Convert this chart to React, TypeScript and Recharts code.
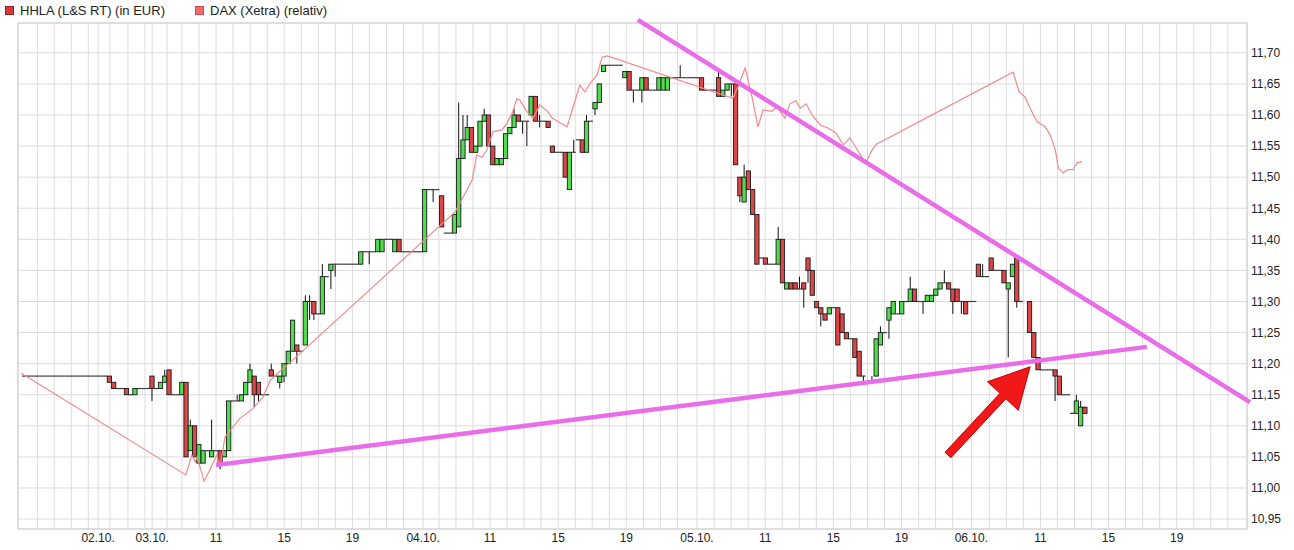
import React from "react";
import {
  Bar,
  CartesianGrid,
  ComposedChart,
  Line,
  ReferenceArea,
  ReferenceLine,
  XAxis,
  YAxis,
} from "recharts";

// 15-minute slots on a compressed intraday time axis: [slot, open, high, low, close]
const candles: number[][] = [
  [21, 11.18, 11.18, 11.17, 11.17], [22, 11.17, 11.17, 11.16, 11.16], [25, 11.16, 11.16, 11.15, 11.15],
  [27, 11.15, 11.16, 11.15, 11.16], [31, 11.18, 11.18, 11.14, 11.16], [33, 11.16, 11.17, 11.16, 11.17],
  [34, 11.17, 11.19, 11.17, 11.18], [35, 11.19, 11.19, 11.15, 11.15], [38, 11.15, 11.17, 11.15, 11.17],
  [39, 11.17, 11.17, 11.05, 11.05], [40, 11.06, 11.11, 11.06, 11.1], [41, 11.1, 11.1, 11.05, 11.05],
  [42, 11.04, 11.07, 11.04, 11.07], [43, 11.04, 11.06, 11.04, 11.06], [45, 11.05, 11.11, 11.05, 11.06],
  [47, 11.06, 11.06, 11.03, 11.04], [48, 11.05, 11.06, 11.05, 11.06], [49, 11.06, 11.14, 11.06, 11.14],
  [51, 11.14, 11.15, 11.14, 11.14], [52, 11.14, 11.15, 11.14, 11.15], [53, 11.15, 11.17, 11.15, 11.17],
  [54, 11.17, 11.2, 11.17, 11.19], [55, 11.18, 11.18, 11.13, 11.15], [56, 11.17, 11.17, 11.14, 11.15],
  [59, 11.19, 11.2, 11.18, 11.18], [61, 11.17, 11.18, 11.16, 11.18], [62, 11.18, 11.2, 11.17, 11.2],
  [63, 11.2, 11.22, 11.2, 11.22], [64, 11.22, 11.27, 11.22, 11.27], [65, 11.23, 11.23, 11.2, 11.22],
  [67, 11.23, 11.31, 11.23, 11.3], [68, 11.3, 11.31, 11.27, 11.3], [69, 11.3, 11.3, 11.27, 11.28],
  [71, 11.28, 11.36, 11.28, 11.34], [73, 11.35, 11.36, 11.32, 11.36], [74, 11.36, 11.36, 11.34, 11.36],
  [80, 11.36, 11.38, 11.36, 11.38], [82, 11.38, 11.38, 11.36, 11.38], [84, 11.38, 11.4, 11.38, 11.4],
  [85, 11.38, 11.4, 11.38, 11.4], [88, 11.38, 11.4, 11.38, 11.4], [89, 11.4, 11.4, 11.38, 11.38],
  [95, 11.38, 11.48, 11.38, 11.48], [97, 11.48, 11.48, 11.46, 11.48], [99, 11.47, 11.47, 11.42, 11.42],
  [102, 11.41, 11.44, 11.41, 11.44], [103, 11.42, 11.62, 11.42, 11.53], [104, 11.53, 11.6, 11.53, 11.56],
  [105, 11.56, 11.6, 11.56, 11.58], [106, 11.58, 11.58, 11.54, 11.54], [107, 11.54, 11.55, 11.54, 11.55],
  [108, 11.55, 11.59, 11.55, 11.59], [109, 11.59, 11.61, 11.59, 11.6], [110, 11.6, 11.6, 11.55, 11.55],
  [111, 11.55, 11.55, 11.52, 11.52], [112, 11.52, 11.53, 11.52, 11.53], [113, 11.52, 11.53, 11.52, 11.53],
  [114, 11.53, 11.57, 11.53, 11.57], [115, 11.57, 11.58, 11.57, 11.58], [116, 11.58, 11.61, 11.58, 11.6],
  [117, 11.6, 11.6, 11.59, 11.59], [118, 11.59, 11.59, 11.57, 11.59], [119, 11.59, 11.59, 11.55, 11.59],
  [120, 11.6, 11.63, 11.6, 11.63], [121, 11.63, 11.63, 11.59, 11.59], [122, 11.59, 11.6, 11.58, 11.59],
  [124, 11.59, 11.59, 11.58, 11.58], [125, 11.55, 11.55, 11.54, 11.54], [128, 11.54, 11.54, 11.5, 11.5],
  [129, 11.48, 11.54, 11.48, 11.54], [130, 11.54, 11.56, 11.54, 11.54], [132, 11.56, 11.56, 11.54, 11.54],
  [133, 11.54, 11.6, 11.54, 11.59], [135, 11.61, 11.62, 11.6, 11.62], [136, 11.62, 11.65, 11.62, 11.65],
  [137, 11.67, 11.68, 11.67, 11.68], [142, 11.66, 11.67, 11.66, 11.67], [143, 11.67, 11.67, 11.64, 11.64],
  [144, 11.64, 11.64, 11.62, 11.64], [146, 11.64, 11.66, 11.62, 11.66], [147, 11.66, 11.66, 11.64, 11.64],
  [150, 11.64, 11.66, 11.64, 11.66], [151, 11.64, 11.66, 11.64, 11.66], [152, 11.64, 11.66, 11.64, 11.66],
  [155, 11.66, 11.68, 11.66, 11.66], [160, 11.66, 11.66, 11.64, 11.64], [164, 11.66, 11.67, 11.63, 11.63],
  [165, 11.63, 11.64, 11.63, 11.64], [166, 11.64, 11.65, 11.64, 11.65], [167, 11.65, 11.65, 11.63, 11.65],
  [168, 11.65, 11.65, 11.52, 11.52], [169, 11.5, 11.5, 11.46, 11.47], [170, 11.46, 11.52, 11.46, 11.5],
  [171, 11.51, 11.51, 11.48, 11.48], [172, 11.48, 11.48, 11.44, 11.44], [173, 11.44, 11.44, 11.36, 11.36],
  [175, 11.37, 11.37, 11.36, 11.36], [178, 11.36, 11.42, 11.36, 11.4], [179, 11.4, 11.4, 11.33, 11.33],
  [180, 11.32, 11.33, 11.32, 11.33], [181, 11.33, 11.33, 11.32, 11.32], [182, 11.33, 11.33, 11.32, 11.32],
  [183, 11.32, 11.34, 11.32, 11.32], [184, 11.33, 11.33, 11.29, 11.32], [185, 11.37, 11.37, 11.33, 11.35],
  [186, 11.35, 11.35, 11.31, 11.31], [187, 11.3, 11.3, 11.29, 11.29], [188, 11.29, 11.29, 11.26, 11.28],
  [189, 11.28, 11.28, 11.27, 11.27], [190, 11.28, 11.29, 11.28, 11.29], [192, 11.29, 11.29, 11.23, 11.23],
  [193, 11.28, 11.28, 11.25, 11.25], [194, 11.25, 11.25, 11.24, 11.24], [196, 11.24, 11.24, 11.21, 11.21],
  [197, 11.22, 11.22, 11.18, 11.18], [198, 11.18, 11.18, 11.17, 11.18], [200, 11.17, 11.18, 11.17, 11.17],
  [201, 11.18, 11.24, 11.18, 11.24], [202, 11.23, 11.26, 11.23, 11.25], [204, 11.27, 11.29, 11.24, 11.29],
  [205, 11.28, 11.3, 11.28, 11.3], [207, 11.28, 11.3, 11.28, 11.3], [209, 11.3, 11.34, 11.3, 11.32],
  [210, 11.32, 11.32, 11.3, 11.3], [212, 11.3, 11.3, 11.28, 11.3], [213, 11.3, 11.31, 11.3, 11.31],
  [214, 11.3, 11.31, 11.3, 11.31], [215, 11.31, 11.32, 11.31, 11.32], [216, 11.32, 11.33, 11.32, 11.33],
  [217, 11.33, 11.35, 11.33, 11.33], [218, 11.33, 11.33, 11.32, 11.32], [219, 11.32, 11.32, 11.28, 11.3],
  [220, 11.32, 11.32, 11.3, 11.3], [221, 11.3, 11.3, 11.28, 11.3], [222, 11.3, 11.3, 11.28, 11.28],
  [225, 11.36, 11.36, 11.34, 11.34], [226, 11.34, 11.36, 11.34, 11.34], [228, 11.37, 11.37, 11.35, 11.35],
  [231, 11.35, 11.35, 11.33, 11.33], [232, 11.32, 11.33, 11.21, 11.33], [233, 11.34, 11.36, 11.34, 11.36],
  [234, 11.37, 11.37, 11.29, 11.3], [237, 11.3, 11.3, 11.25, 11.25], [238, 11.25, 11.25, 11.21, 11.21],
  [239, 11.21, 11.21, 11.19, 11.19], [243, 11.19, 11.19, 11.14, 11.18], [244, 11.18, 11.18, 11.15, 11.15],
  [248, 11.12, 11.15, 11.12, 11.14], [249, 11.1, 11.14, 11.1, 11.13], [250, 11.13, 11.13, 11.12, 11.12],
];

// slots without trades: [fromSlot, toSlot, price]
const flatRuns: number[][] = [
  [1, 20, 11.18], [23, 24, 11.16], [26, 26, 11.15], [28, 30, 11.16], [32, 32, 11.16], [36, 37, 11.15],
  [44, 44, 11.06], [46, 46, 11.06], [50, 50, 11.14], [57, 58, 11.15], [60, 60, 11.18], [66, 66, 11.22],
  [70, 70, 11.28], [72, 72, 11.34], [75, 79, 11.36], [81, 81, 11.38], [83, 83, 11.38], [86, 87, 11.4],
  [90, 94, 11.38], [96, 96, 11.48], [98, 98, 11.48], [100, 101, 11.41], [123, 123, 11.59],
  [126, 127, 11.54], [131, 131, 11.56], [134, 134, 11.59], [138, 141, 11.68], [145, 145, 11.64],
  [148, 149, 11.64], [153, 154, 11.66], [156, 159, 11.66], [161, 163, 11.64], [174, 174, 11.37],
  [176, 177, 11.36], [191, 191, 11.29], [195, 195, 11.24], [199, 199, 11.17], [203, 203, 11.25],
  [206, 206, 11.28], [208, 208, 11.3], [211, 211, 11.3], [223, 224, 11.3], [227, 227, 11.34],
  [229, 230, 11.35], [235, 235, 11.3], [240, 242, 11.19], [245, 246, 11.15], [247, 247, 11.12],
];

// DAX (relative), scaled onto the HHLA price axis: [slot, value]
const dax: number[][] = [
  [0.2, 11.185], [38.9, 11.021], [40.3, 11.053], [41.1, 11.042], [41.5, 11.05], [43.2, 11.011],
  [44.3, 11.026], [46.2, 11.053], [46.9, 11.034], [48.1, 11.082], [49.7, 11.096], [51.6, 11.112],
  [54.7, 11.128], [57.0, 11.146], [58.7, 11.173], [60.5, 11.185], [63.4, 11.202], [102.1, 11.444],
  [106.1, 11.495], [107.2, 11.536], [108.4, 11.532], [109.6, 11.544], [111.0, 11.573], [113.1, 11.576],
  [114.3, 11.587], [115.5, 11.603], [116.6, 11.626], [117.3, 11.624], [119.0, 11.605], [120.4, 11.595],
  [122.0, 11.616], [123.9, 11.605], [124.9, 11.595], [126.3, 11.589], [128.4, 11.581], [129.8, 11.613],
  [131.4, 11.648], [132.6, 11.637], [133.8, 11.651], [135.4, 11.664], [136.6, 11.693], [137.8, 11.695],
  [167.3, 11.627], [168.5, 11.645], [170.2, 11.676], [171.8, 11.629], [173.2, 11.581], [174.4, 11.608],
  [176.5, 11.606], [177.7, 11.613], [179.5, 11.595], [180.7, 11.618], [182.1, 11.623], [183.1, 11.611],
  [184.5, 11.618], [185.9, 11.6], [187.8, 11.584], [189.6, 11.579], [191.5, 11.571], [193.2, 11.552],
  [194.8, 11.563], [196.5, 11.544], [197.7, 11.531], [198.6, 11.524], [200.0, 11.544], [201.0, 11.553],
  [233.1, 11.669], [234.5, 11.637], [235.9, 11.629], [237.1, 11.611], [238.7, 11.589], [240.6, 11.581],
  [241.8, 11.568], [243.0, 11.544], [243.7, 11.515], [244.8, 11.507], [246.0, 11.512], [247.2, 11.512],
  [248.1, 11.523], [249.3, 11.525],
];

const gridTicks = [
  4.1, 8, 12, 16, 18.3, 21.1, 25.3, 29.3, 31, 34.5, 38, 42, 46, 50, 54, 58, 62, 66, 70, 74, 78, 82, 86, 90,
  94.6, 98.3, 102.3, 106.3, 110.3, 114.3, 118.3, 122.3, 126.3, 130.3, 134.3, 138.3, 142.3, 146.3, 150.3,
  154.3, 158.9, 162.9, 166.9, 170.9, 174.9, 178.9, 182.9, 186.9, 190.9, 194.9, 198.9, 202.9, 206.9, 210.9,
  214.9, 218.9, 223.3, 227.5, 231.5, 235.5, 239.5, 243.5, 247.5, 251.5, 255.5, 259.5, 263.5, 267.5, 271.5,
  275.5, 279.5, 283.5,
];
const timeLabels: [number, string][] = [
  [18.3, "02.10."], [31, "03.10."], [46, "11"], [62, "15"], [78, "19"], [94.6, "04.10."], [110.3, "11"],
  [126.3, "15"], [142.3, "19"], [158.9, "05.10."], [174.9, "11"], [190.9, "15"], [206.9, "19"],
  [223.3, "06.10."], [239.5, "11"], [255.5, "15"], [271.5, "19"],
];
const priceTicks = [10.95, 11, 11.05, 11.1, 11.15, 11.2, 11.25, 11.3, 11.35, 11.4, 11.45, 11.5, 11.55, 11.6, 11.65, 11.7];

const supportLine = [{ x: 46, y: 11.037 }, { x: 264.5, y: 11.227 }];
const resistanceLine = [{ x: 145, y: 11.753 }, { x: 288.7, y: 11.138 }];
const arrowSegment = [{ x: 217.8, y: 11.053 }, { x: 237.1, y: 11.195 }];

const X_DOMAIN: [number, number] = [-0.5, 288];
const Y_DOMAIN: [number, number] = [10.934, 11.748];
const EPS = 0.00001;
const SLOT_W = 4.26;
const RED = "#dc4646";
const GREEN = "#4fdc4f";
const MAGENTA = "#e96ce9";

const labelMap = new Map(timeLabels);

const rows = (() => {
  const out = candles.map(([s, o, h, l, c]) => ({ s, o, h, l, c }));
  flatRuns.forEach(([a, b, p]) => {
    for (let s = a; s <= b; s++) out.push({ s, o: p, h: p, l: p, c: p });
  });
  out.sort((a, b) => a.s - b.s);
  return out.map((r) => ({ ...r, range: [r.l, r.h + EPS] }));
})();

const daxRows = dax.map(([s, v]) => ({ s, v }));

function Candle(props: any) {
  const { x, y, width, height, payload } = props;
  if (!payload || ![x, y, width, height].every(Number.isFinite)) return null;
  const { o, h, l, c } = payload;
  const top = Math.min(y, y + height);
  const hgt = Math.abs(height);
  const py = (v: number) => top + ((h + EPS - v) / (h + EPS - l)) * hgt;
  const cx = x + width / 2;
  const left = cx - SLOT_W / 2;
  const bodyTop = py(Math.max(o, c));
  const bodyBot = py(Math.min(o, c));
  const wick = h > l ? <line x1={cx} x2={cx} y1={py(h)} y2={py(l)} stroke="#111" strokeWidth={1} /> : null;
  if (o === c) {
    return (
      <g>
        {wick}
        <line x1={left} x2={left + SLOT_W} y1={bodyTop} y2={bodyTop} stroke="#3a3a3a" strokeWidth={1.2} />
      </g>
    );
  }
  return (
    <g>
      {wick}
      <rect x={left} y={bodyTop} width={SLOT_W} height={bodyBot - bodyTop} fill={c > o ? GREEN : RED} stroke="#1a1a1a" strokeWidth={0.9} />
    </g>
  );
}

function Arrow(props: any) {
  const { x1, y1, x2, y2 } = props;
  if (![x1, y1, x2, y2].every(Number.isFinite)) return null;
  const dx = x2 - x1;
  const dy = y2 - y1;
  const len = Math.hypot(dx, dy);
  const ux = dx / len;
  const uy = dy / len;
  const nx = -uy;
  const ny = ux;
  const headLen = 40;
  const headHalf = 21;
  const shaftHalf = 4;
  const bx = x2 - ux * headLen;
  const by = y2 - uy * headLen;
  const pts = [
    [x1 + nx * shaftHalf, y1 + ny * shaftHalf],
    [bx + nx * shaftHalf, by + ny * shaftHalf],
    [bx + nx * headHalf, by + ny * headHalf],
    [x2, y2],
    [bx - nx * headHalf, by - ny * headHalf],
    [bx - nx * shaftHalf, by - ny * shaftHalf],
    [x1 - nx * shaftHalf, y1 - ny * shaftHalf],
  ]
    .map((p) => p.join(","))
    .join(" ");
  return <polygon points={pts} fill="#f01818" stroke="#c40000" strokeWidth={1} />;
}

function LegendItem({ left, color, border, label }: { left: number; color: string; border: string; label: string }) {
  return (
    <div style={{ position: "absolute", left, top: 3, display: "flex", alignItems: "center", whiteSpace: "nowrap" }}>
      <span style={{ width: 7, height: 7, background: color, border: `1px solid ${border}`, marginRight: 6 }} />
      {label}
    </div>
  );
}

export default function App() {
  return (
    <div
      style={{
        position: "absolute",
        left: 0,
        top: 0,
        width: 1294,
        height: 550,
        background: "#fff",
        fontFamily: "'Liberation Sans', Arial, sans-serif",
      }}
    >
      <div style={{ position: "absolute", left: 0, top: 0, fontSize: 13, color: "#222" }}>
        <LegendItem left={5} color="#d63a3a" border="#9a1c1c" label="HHLA (L&S RT) (in EUR)" />
        <LegendItem left={195} color="#f26a6a" border="#c84a4a" label="DAX (Xetra) (relativ)" />
      </div>
      <ComposedChart width={1294} height={550} data={rows} margin={{ top: 23, right: 0, bottom: 0, left: 18 }}>
        <CartesianGrid stroke="#dcdcdc" />
        <ReferenceArea x1={X_DOMAIN[0]} x2={X_DOMAIN[1]} y1={Y_DOMAIN[0]} y2={Y_DOMAIN[1]} fill="none" stroke="#cfcfcf" />
        <XAxis
          dataKey="s"
          type="number"
          domain={X_DOMAIN}
          ticks={gridTicks}
          interval={0}
          allowDataOverflow
          height={21}
          tickLine={false}
          axisLine={false}
          tickSize={0}
          tickMargin={4}
          tick={{ fontSize: 12, fill: "#222" }}
          tickFormatter={(v: number) => labelMap.get(v) ?? ""}
        />
        <XAxis xAxisId="dax" dataKey="s" type="number" domain={X_DOMAIN} allowDataOverflow hide />
        <YAxis
          orientation="right"
          type="number"
          domain={Y_DOMAIN}
          allowDataOverflow
          ticks={priceTicks}
          interval={0}
          width={47}
          tickLine={false}
          axisLine={false}
          tickSize={0}
          tickMargin={4}
          tick={{ fontSize: 12, fill: "#222", textAnchor: "start" }}
          tickFormatter={(v: number) => v.toFixed(2).replace(".", ",")}
        />
        <Line
          xAxisId="dax"
          data={daxRows}
          dataKey="v"
          type="linear"
          stroke="#f28a8a"
          strokeWidth={1.2}
          dot={false}
          activeDot={false}
          isAnimationActive={false}
        />
        <Bar dataKey="range" barSize={SLOT_W} shape={<Candle />} isAnimationActive={false} />
        <ReferenceLine segment={supportLine} stroke={MAGENTA} strokeWidth={4.5} ifOverflow="visible" />
        <ReferenceLine segment={resistanceLine} stroke={MAGENTA} strokeWidth={4.5} ifOverflow="visible" />
        <ReferenceLine segment={arrowSegment} ifOverflow="visible" shape={(p: any) => <Arrow {...p} />} />
      </ComposedChart>
    </div>
  );
}
